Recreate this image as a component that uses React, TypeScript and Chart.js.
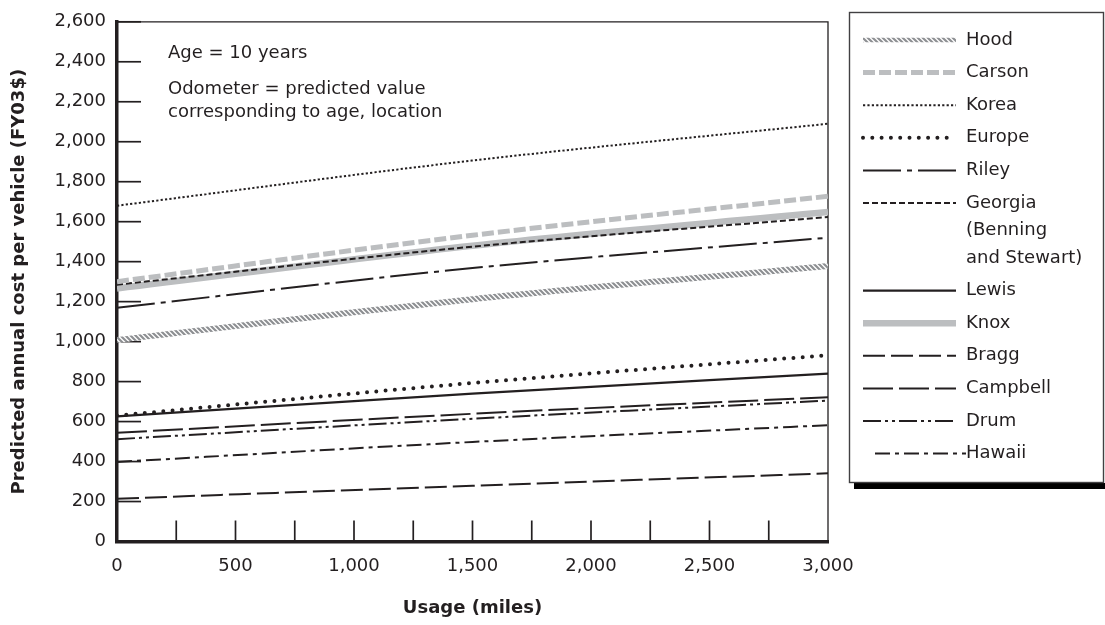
import { useEffect, useRef } from 'react';
import { Chart, registerables } from 'chart.js';

Chart.register(...registerables);

// ---------- data ----------
const usage = [0, 1500, 3000];

const seriesNames = [
  'Hood',
  'Carson',
  'Korea',
  'Europe',
  'Riley',
  'Georgia (Benning and Stewart)',
  'Lewis',
  'Knox',
  'Bragg',
  'Campbell',
  'Drum',
  'Hawaii',
];

const hood = [1008, 1212, 1378];
const carson = [1300, 1532, 1727];
const korea = [1680, 1906, 2090];
const europe = [630, 793, 932];
const riley = [1170, 1368, 1520];
const georgia = [1285, 1475, 1623];
const lewis = [626, 740, 840];
const knox = [1266, 1480, 1648];
const bragg = [214, 279, 341];
const campbell = [544, 639, 722];
const drum = [512, 614, 705];
const hawaii = [398, 498, 582];

const seriesValues = [hood, carson, korea, europe, riley, georgia, lewis, knox, bragg, campbell, drum, hawaii];

const legendLines = [
  ['Hood'],
  ['Carson'],
  ['Korea'],
  ['Europe'],
  ['Riley'],
  ['Georgia', '(Benning', 'and Stewart)'],
  ['Lewis'],
  ['Knox'],
  ['Bragg'],
  ['Campbell'],
  ['Drum'],
  ['Hawaii'],
];

const annotationLines = ['Age = 10 years', 'Odometer = predicted value', 'corresponding to age, location'];

const xTitle = 'Usage (miles)';
const yTitle = 'Predicted annual cost per vehicle (FY03$)';

// ---------- styles ----------
const INK = '#231f20';
const LIGHT = '#bcbec0';
const FONT = "'DejaVu Sans', sans-serif";

function makeHatch(): CanvasPattern | string {
  const s = 5;
  const c = document.createElement('canvas');
  c.width = s;
  c.height = s;
  const g = c.getContext('2d');
  if (!g) return '#999';
  g.fillStyle = '#ffffff';
  g.fillRect(0, 0, s, s);
  g.strokeStyle = '#8d8f92';
  g.lineWidth = 2.2;
  g.beginPath();
  g.moveTo(-1, -1);
  g.lineTo(s + 1, s + 1);
  g.moveTo(-1, s - 1);
  g.lineTo(1, s + 1);
  g.moveTo(s - 1, -1);
  g.lineTo(s + 1, 1);
  g.stroke();
  const p = g.createPattern(c, 'repeat');
  return p || '#999';
}

type Style = { color: any; width: number; dash: number[]; cap: CanvasLineCap };

function styles(hatch: any): Style[] {
  return [
    { color: hatch, width: 6, dash: [], cap: 'butt' }, // Hood
    { color: LIGHT, width: 5, dash: [12, 4], cap: 'butt' }, // Carson
    { color: INK, width: 2, dash: [2.2, 2.2], cap: 'butt' }, // Korea
    { color: INK, width: 4, dash: [0, 9.3], cap: 'round' }, // Europe
    { color: INK, width: 2, dash: [38, 6, 5, 6], cap: 'butt' }, // Riley
    { color: INK, width: 2, dash: [6, 3], cap: 'butt' }, // Georgia
    { color: INK, width: 2.2, dash: [], cap: 'butt' }, // Lewis
    { color: LIGHT, width: 6.5, dash: [], cap: 'butt' }, // Knox
    { color: INK, width: 2, dash: [22, 6], cap: 'butt' }, // Bragg
    { color: INK, width: 2, dash: [30, 6], cap: 'butt' }, // Campbell
    { color: INK, width: 2, dash: [18, 4, 3, 4, 3, 4], cap: 'butt' }, // Drum
    { color: INK, width: 2, dash: [15, 5, 4, 5], cap: 'butt' }, // Hawaii
  ];
}

const ticksPlugin = {
  id: 'inwardTicks',
  beforeDatasetsDraw(chart: any) {
    const { ctx, chartArea: ca, scales } = chart;
    const xs = scales.x;
    const ys = scales.y;
    ctx.save();
    ctx.strokeStyle = INK;
    ctx.setLineDash([]);
    ctx.lineWidth = 1.3;
    ctx.beginPath();
    ctx.moveTo(ca.left, ca.top);
    ctx.lineTo(ca.right, ca.top);
    ctx.lineTo(ca.right, ca.bottom);
    ctx.stroke();
    ctx.lineWidth = 1.7;
    ys.ticks.forEach((t: any) => {
      if (t.value <= 0) return;
      const y = ys.getPixelForValue(t.value);
      ctx.beginPath();
      ctx.moveTo(ca.left, y);
      ctx.lineTo(ca.left + 24, y);
      ctx.stroke();
    });
    xs.ticks.forEach((t: any) => {
      if (t.value <= 0 || t.value >= xs.max) return;
      const x = xs.getPixelForValue(t.value);
      ctx.beginPath();
      ctx.moveTo(x, ca.bottom);
      ctx.lineTo(x, ca.bottom - 21);
      ctx.stroke();
    });
    ctx.restore();
  },
  afterDraw(chart: any) {
    const { ctx } = chart;
    ctx.save();
    ctx.fillStyle = INK;
    ctx.font = `18px ${FONT}`;
    ctx.textBaseline = 'middle';
    ctx.textAlign = 'left';
    ctx.fillText(annotationLines[0], 168, 53);
    ctx.fillText(annotationLines[1], 168, 89);
    ctx.fillText(annotationLines[2], 168, 112);

    // legend box
    ctx.fillStyle = '#000';
    ctx.fillRect(854, 483, 260, 6);
    ctx.fillStyle = '#fff';
    ctx.fillRect(850, 13, 253, 469);
    ctx.strokeStyle = '#414042';
    ctx.lineWidth = 1.4;
    ctx.setLineDash([]);
    ctx.strokeRect(849.5, 12.5, 254, 470);

    let y = 40;
    chart.data.datasets.forEach((ds: any, i: number) => {
      const lines = legendLines[i];
      const x0 = lines[0] === 'Hawaii' ? 875 : 863;
      const x1 = lines[0] === 'Hawaii' ? 966 : 956;
      ctx.strokeStyle = ds.borderColor;
      ctx.lineWidth = lines[0] === 'Hood' ? 4.5 : ds.borderWidth;
      ctx.setLineDash(ds.borderDash);
      ctx.lineCap = ds.borderCapStyle;
      ctx.beginPath();
      ctx.moveTo(x0, y);
      ctx.lineTo(x1, y);
      ctx.stroke();
      ctx.setLineDash([]);
      ctx.lineCap = 'butt';
      ctx.fillStyle = INK;
      lines.forEach((txt: string, k: number) => {
        ctx.fillText(txt, 966, y + k * 27.5);
      });
      y += (lines.length - 1) * 27.5 + 32.6;
    });
    ctx.restore();
  },
};

export default function App() {
  const ref = useRef<HTMLCanvasElement | null>(null);

  useEffect(() => {
    document.body.style.margin = '0';
    const canvas = ref.current;
    if (!canvas) return;
    const hatch = makeHatch();
    const st = styles(hatch);
    Chart.defaults.font.family = FONT;
    Chart.defaults.color = INK;

    const datasets = seriesNames.map((name, i) => ({
      label: name,
      data: usage.map((u, k) => ({ x: u, y: seriesValues[i][k] })),
      borderColor: st[i].color,
      backgroundColor: st[i].color,
      borderWidth: st[i].width,
      borderDash: st[i].dash,
      borderCapStyle: st[i].cap,
      pointRadius: 0,
      fill: false,
      cubicInterpolationMode: 'monotone' as const,
    }));

    const chart = new Chart(canvas, {
      type: 'line',
      data: { datasets },
      options: {
        responsive: false,
        animation: false,
        layout: { padding: { top: 13.6, right: 277, bottom: 0, left: 0 } },
        plugins: { legend: { display: false }, tooltip: { enabled: false } },
        scales: {
          x: {
            type: 'linear',
            min: 0,
            max: 3000,
            grid: { display: false, drawTicks: false },
            border: { display: true, color: INK, width: 3.5 },
            ticks: {
              stepSize: 250,
              autoSkip: false,
              maxRotation: 0,
              padding: 14,
              color: INK,
              font: { size: 18, family: FONT },
              callback: (v: any) => (Number(v) % 500 === 0 ? Number(v).toLocaleString('en-US') : ''),
            },
            title: {
              display: true,
              text: xTitle,
              color: INK,
              font: { size: 18, weight: 'bold', family: FONT },
              padding: { top: 0, bottom: 6 },
            },
            afterFit: (s: any) => {
              s.height = 83.5;
            },
          },
          y: {
            min: 0,
            max: 2600,
            grid: { display: false, drawTicks: false },
            border: { display: true, color: INK, width: 3.5 },
            ticks: {
              stepSize: 200,
              padding: 11,
              color: INK,
              font: { size: 18, family: FONT },
              callback: (v: any) => Number(v).toLocaleString('en-US'),
            },
            title: {
              display: true,
              text: yTitle,
              color: INK,
              font: { size: 18, weight: 'bold', family: FONT },
              padding: { top: 9, bottom: 0 },
            },
            afterFit: (s: any) => {
              s.width = 117;
            },
          },
        },
      },
      plugins: [ticksPlugin],
    } as any);

    return () => chart.destroy();
  }, []);

  return (
    <div style={{ width: 1105, height: 625 }}>
      <canvas ref={ref} width={1105} height={625} style={{ display: 'block' }} />
    </div>
  );
}
